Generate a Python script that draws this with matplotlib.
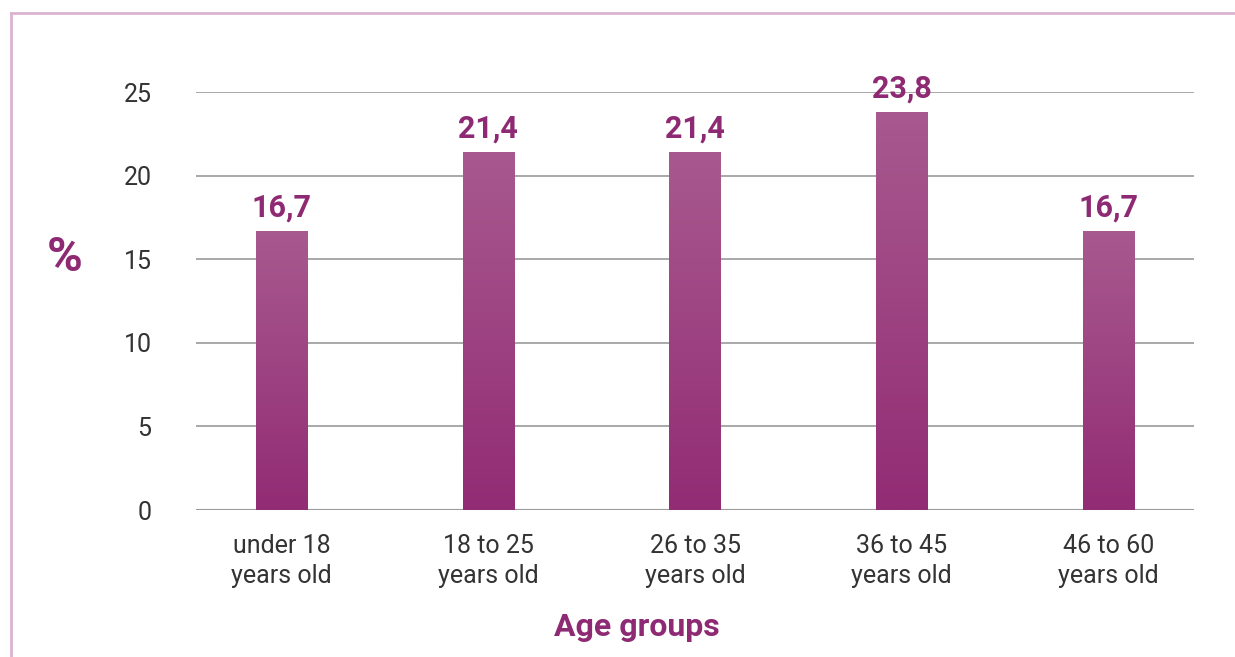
import matplotlib.pyplot as plt
import numpy as np
from matplotlib.colors import LinearSegmentedColormap
from matplotlib.lines import Line2D

groups = ['under 18\nyears old', '18 to 25\nyears old', '26 to 35\nyears old',
          '36 to 45\nyears old', '46 to 60\nyears old']
shares = [16.7, 21.4, 21.4, 23.8, 16.7]
value_labels = ['16,7', '21,4', '21,4', '23,8', '16,7']

purple = '#8E2A73'
plt.rcParams['font.family'] = ['Roboto', 'DejaVu Sans']

fig = plt.figure(figsize=(12.35, 6.57), dpi=100)
ax = fig.add_axes([196 / 1235, 1 - 510 / 657, 998 / 1235, 418 / 657])

x = np.arange(len(groups))
bars = ax.bar(x, shares, width=0.247, color='none', zorder=3)

# vertical gradient inside each bar
cmap = LinearSegmentedColormap.from_list('g', ['#922C74', '#A8598F'])
grad = np.linspace(0, 1, 256).reshape(-1, 1)
for b in bars:
    x0, y0 = b.get_x(), b.get_y()
    im = ax.imshow(grad, cmap=cmap, origin='lower', aspect='auto',
                   extent=[x0, x0 + b.get_width(), y0, y0 + b.get_height()], zorder=3)
    im.set_clip_path(b)

for xi, v, lab in zip(x, shares, value_labels):
    ax.text(xi, v + 0.5, lab, ha='center', va='bottom', fontsize=22,
            fontweight='bold', color=purple, zorder=4)

ax.set_xlim(-0.413, 4.413)
ax.set_ylim(0, 25)
ax.set_yticks([0, 5, 10, 15, 20, 25])
ax.set_xticks(x)
ax.set_xticklabels(groups, fontsize=18, color='#333333', linespacing=1.35)
ax.tick_params(axis='both', length=0, labelsize=18, colors='#333333')
ax.tick_params(axis='y', pad=32)
ax.tick_params(axis='x', pad=17)
ax.grid(axis='y', color='#9a9a9a', lw=1.2, zorder=0)
ax.set_axisbelow(True)
for s in ax.spines.values():
    s.set_visible(False)
ax.axhline(0, color='#9a9a9a', lw=1.5, zorder=2)

fig.text(65 / 1235, 1 - 258 / 657, '%', ha='center', va='center', fontsize=35,
         fontweight='bold', color=purple)
fig.text(637 / 1235, 1 - 627 / 657, 'Age groups', ha='center', va='center',
         fontsize=23, fontweight='bold', color=purple)

# light pink frame (top and left)
fig.add_artist(Line2D([11 / 1235, 1], [1 - 13 / 657, 1 - 13 / 657],
                      transform=fig.transFigure, color='#DDB3D2', lw=2))
fig.add_artist(Line2D([11 / 1235, 11 / 1235], [0, 1 - 13 / 657],
                      transform=fig.transFigure, color='#DDB3D2', lw=2))

plt.savefig('out.png', dpi=100)
